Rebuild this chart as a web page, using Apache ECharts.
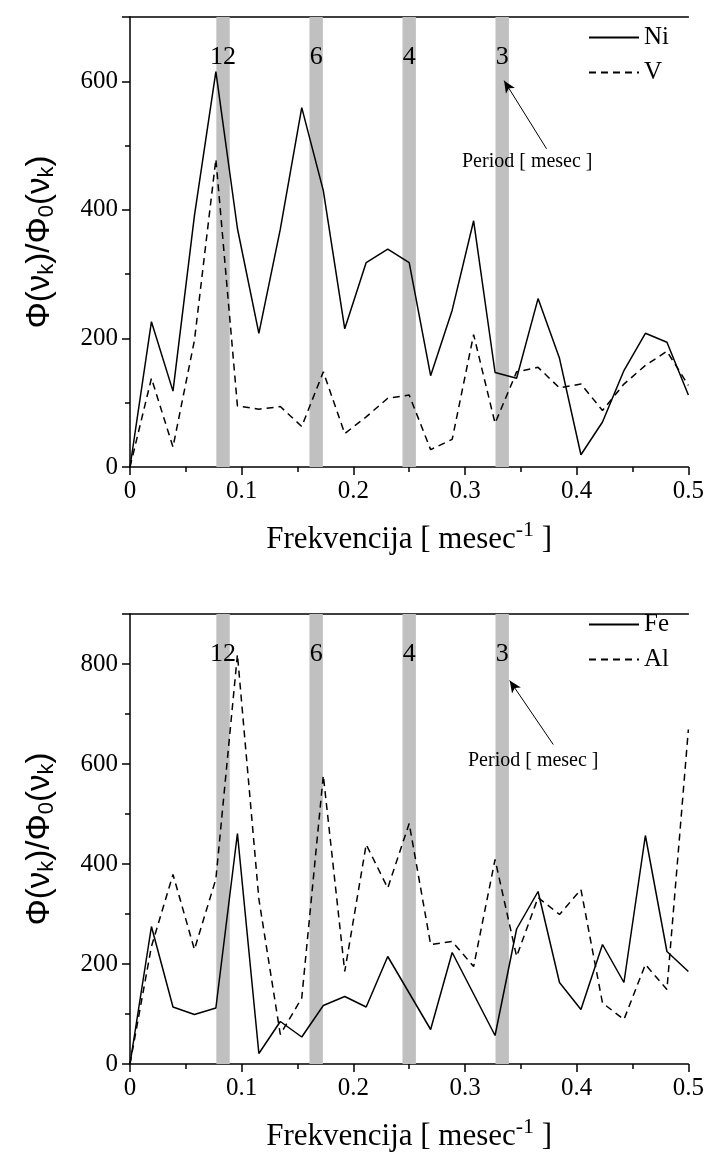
<!DOCTYPE html>
<html>
<head>
<meta charset="utf-8">
<script src="https://cdn.jsdelivr.net/npm/echarts@6/dist/echarts.min.js"></script>
<style>
  html, body { margin: 0; padding: 0; background: #fff; }
  #chart { width: 707px; height: 1159px; }
</style>
</head>
<body>
<div id="chart"></div>
<script>
// frekvencija k/52, k = 0..26
var freq = [0, 0.0192, 0.0385, 0.0577, 0.0769, 0.0962, 0.1154, 0.1346, 0.1538,
  0.1731, 0.1923, 0.2115, 0.2308, 0.25, 0.2692, 0.2885, 0.3077, 0.3269, 0.3462,
  0.3654, 0.3846, 0.4038, 0.4231, 0.4423, 0.4615, 0.4808, 0.5];
var ni = [0, 226, 118, 391, 615, 371, 208, 370, 559, 430, 215, 318, 339, 318, 142,
  244, 383, 147, 138, 262, 169, 19, 70, 150, 208, 194, 112];
var v = [0, 138, 31, 197, 479, 95, 90, 94, 63, 148, 52, 78, 107, 112, 27,
  43, 206, 68, 148, 155, 123, 129, 88, 129, 158, 180, 127];
var fe = [0, 275, 114, 99, 112, 461, 21, 85, 54, 117, 135, 114, 215, 142, 69,
  223, 140, 57, 270, 345, 163, 109, 239, 163, 457, 225, 185];
var al = [0, 235, 379, 229, 370, 819, 330, 59, 132, 577, 185, 439, 352, 481, 239,
  245, 195, 409, 215, 333, 299, 349, 122, 89, 199, 149, 669];
var periods = ["12", "6", "4", "3"];
var bandCenters = [0.0833, 0.1667, 0.25, 0.3333];

(function () {
  var myChart = echarts.init(document.getElementById("chart"));
  var serif = "Liberation Serif";
  var sans = "Liberation Sans";

  var pairs = function (ys) {
    return freq.map(function (f, i) {
      return [f, ys[i]];
    });
  };
  var bands = bandCenters.map(function (c, i) {
    return [{ name: periods[i], xAxis: c - 0.006 }, { xAxis: c + 0.006 }];
  });

  var grids = [
    { left: 130, top: 17, width: 560, height: 450 },
    { left: 130, top: 614, width: 560, height: 450 },
  ];

  var xBottom = function (gi) {
    return {
      type: "value",
      gridIndex: gi,
      min: 0,
      max: 0.5,
      interval: 0.1,
      position: "bottom",
      axisLine: { onZero: false, lineStyle: { color: "#000", width: 1.5 } },
      axisTick: { length: 8, lineStyle: { color: "#000", width: 1.5 } },
      minorTick: { show: true, splitNumber: 2, length: 5, lineStyle: { color: "#000", width: 1.5 } },
      splitLine: { show: false },
      axisLabel: {
        margin: 12,
        color: "#000",
        fontFamily: serif,
        fontSize: 25,
        formatter: function (val) {
          return val === 0 ? "0" : val.toFixed(1);
        },
      },
      name: "Frekvencija [ mesec{sup|-1} ]",
      nameLocation: "middle",
      nameGap: 52,
      nameTextStyle: {
        color: "#000",
        fontFamily: serif,
        fontSize: 31,
        rich: { sup: { fontFamily: serif, fontSize: 22, padding: [0, 0, 20, 0] } },
      },
    };
  };
  var xTop = function (gi) {
    return {
      type: "value",
      gridIndex: gi,
      min: 0,
      max: 0.5,
      position: "top",
      axisLine: { show: true, onZero: false, lineStyle: { color: "#000", width: 1.5 } },
      axisTick: { show: false },
      axisLabel: { show: false },
      splitLine: { show: false },
    };
  };
  var yMain = function (gi, max) {
    return {
      type: "value",
      gridIndex: gi,
      min: 0,
      max: max,
      interval: 200,
      axisLine: { show: true, onZero: false, lineStyle: { color: "#000", width: 1.5 } },
      axisTick: { show: true, length: 8, lineStyle: { color: "#000", width: 1.5 } },
      splitLine: { show: false },
      axisLabel: {
        margin: 12,
        color: "#000",
        fontFamily: serif,
        fontSize: 25,
        formatter: function (val) {
          return val % 200 === 0 ? String(val) : "";
        },
      },
      name: "Φ(ν{sub|k})/Φ{sub|0}(ν{sub|k})",
      nameLocation: "middle",
      nameGap: 72,
      nameTextStyle: {
        color: "#000",
        fontFamily: sans,
        fontSize: 33,
        rich: { sub: { fontFamily: sans, fontSize: 22, padding: [15, 0, 0, 0] } },
      },
    };
  };
  var yMinor = function (gi, max) {
    return {
      type: "value",
      gridIndex: gi,
      min: 0,
      max: max,
      interval: 100,
      position: "left",
      axisLine: { show: false, onZero: false },
      axisTick: { show: true, length: 5, lineStyle: { color: "#000", width: 1.5 } },
      axisLabel: { show: false },
      splitLine: { show: false },
    };
  };

  var markArea = {
    silent: true,
    itemStyle: { color: "#c0c0c0" },
    label: {
      show: true,
      position: "insideTop",
      distance: 27,
      color: "#000",
      fontFamily: serif,
      fontSize: 26,
    },
    data: bands,
  };
  var arrow = function (from, to) {
    return {
      silent: true,
      symbol: ["none", "arrow"],
      symbolSize: [8, 12],
      label: { show: false },
      lineStyle: { color: "#000", width: 1, type: "solid" },
      data: [[{ coord: from }, { coord: to }]],
    };
  };
  var lineSeries = function (name, data, xi, yi, dashed, extra) {
    var s = {
      name: name,
      type: "line",
      xAxisIndex: xi,
      yAxisIndex: yi,
      data: pairs(data),
      symbol: "none",
      z: 3,
      lineStyle: { color: "#000", width: 1.5, type: dashed ? [7, 5] : "solid" },
      itemStyle: { color: "#000" },
    };
    for (var key in extra) {
      s[key] = extra[key];
    }
    return s;
  };

  var legendStyle = function (names, top) {
    return {
      data: names,
      orient: "vertical",
      left: 583,
      top: top,
      itemWidth: 50,
      itemHeight: 14,
      itemGap: 10,
      itemStyle: { opacity: 0 },
      textStyle: { color: "#000", fontFamily: serif, fontSize: 25 },
    };
  };

  var option = {
    animation: false,
    grid: grids,
    xAxis: [xBottom(0), xTop(0), xBottom(1), xTop(1)],
    yAxis: [yMain(0, 700), yMinor(0, 700), yMain(1, 900), yMinor(1, 900)],
    legend: [legendStyle(["Ni", "V"], 20), legendStyle(["Fe", "Al"], 607)],
    series: [
      lineSeries("Ni", ni, 0, 0, false, {
        markArea: markArea,
        markLine: arrow([0.373, 495], [0.335, 601]),
      }),
      lineSeries("V", v, 0, 0, true),
      lineSeries("Fe", fe, 2, 2, false, {
        markArea: markArea,
        markLine: arrow([0.379, 639], [0.34, 767]),
      }),
      lineSeries("Al", al, 2, 2, true),
    ],
    graphic: [
      {
        type: "text",
        left: 462,
        top: 152,
        z: 100,
        style: { text: "Period [ mesec ]", fill: "#000", font: "20px 'Liberation Serif'" },
      },
      {
        type: "text",
        left: 468,
        top: 751,
        z: 100,
        style: { text: "Period [ mesec ]", fill: "#000", font: "20px 'Liberation Serif'" },
      },
    ],
  };
  myChart.setOption(option);
})();
</script>
</body>
</html>
